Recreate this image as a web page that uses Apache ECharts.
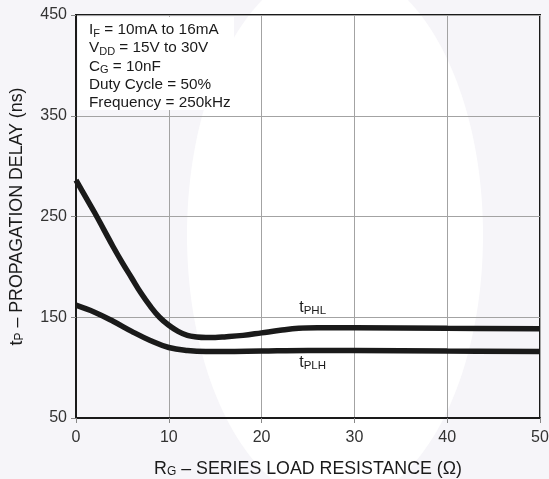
<!DOCTYPE html>
<html>
<head>
<meta charset="utf-8">
<script src="https://cdn.jsdelivr.net/npm/echarts@6/dist/echarts.min.js"></script>
<style>
html,body{margin:0;padding:0;background:#f6f5f9;}
#c{width:549px;height:479px;}
</style>
</head>
<body>
<div id="c"></div>
<script>
// Data
const rgPHL = [0, 1, 2, 3, 4, 5, 6, 7, 8, 9, 10, 11, 12, 13, 14, 15, 16, 18, 20, 22, 24, 26, 30, 40, 50];
const tPHL  = [286, 270, 254, 237, 220, 204, 189, 174, 161, 150, 142, 136, 132, 130.5, 130, 130, 130.5, 132, 134.5, 137, 139, 139.5, 139.5, 139, 138.5];
const rgPLH = [0, 2, 4, 6, 8, 10, 12, 14, 16, 20, 25, 30, 40, 50];
const tPLH  = [162, 155, 146, 136, 127, 120, 117, 116, 116, 116.5, 117, 117, 116.5, 116];
const xTicks = [0, 10, 20, 30, 40, 50];
const yTicks = [50, 150, 250, 350, 450];
const conditions = [
  ['I', 'F', ' = 10mA to 16mA'],
  ['V', 'DD', ' = 15V to 30V'],
  ['C', 'G', ' = 10nF'],
  ['Duty Cycle = 50%', '', ''],
  ['Frequency = 250kHz', '', '']
];

const font = 'Liberation Sans, Arial, sans-serif';
const chart = echarts.init(document.getElementById('c'));

const condText = conditions.map(r => r[1] ? '{m|' + r[0] + '}{s|' + r[1] + '}{m|' + r[2] + '}' : '{m|' + r[0] + '}').join('\n');

chart.setOption({
  backgroundColor: '#f6f5f9',
  animation: false,
  graphic: [
    { type: 'ellipse', z: -1, shape: { cx: 335, cy: 235, rx: 148, ry: 270 }, style: { fill: '#ffffff' }, silent: true },
    { type: 'rect', z: 10, shape: { x: 78, y: 17, width: 156, height: 93 }, style: { fill: '#ffffff' } },
    { type: 'text', z: 11, left: 89, top: 20, style: {
        text: condText, fontFamily: font, fill: '#1a1a1a',
        rich: {
          m: { fontSize: 15.3, fontFamily: font, fill: '#1a1a1a', lineHeight: 18.2 },
          s: { fontSize: 11, fontFamily: font, fill: '#1a1a1a', verticalAlign: 'bottom', lineHeight: 18.2, padding: [8, 0, 0, 0] }
        }
      } }
  ],
  grid: { left: 76, right: 9, top: 15, bottom: 61, outerBoundsMode: 'none', containLabel: false, show: true, borderColor: '#1a1a1a', borderWidth: 2, backgroundColor: 'transparent' },
  xAxis: {
    type: 'value', min: xTicks[0], max: xTicks[xTicks.length - 1], interval: 10,
    name: '{m|R}{s|G}{m| – SERIES LOAD RESISTANCE (Ω)}',
    nameLocation: 'middle', nameGap: 42,
    nameTextStyle: { rich: {
      m: { fontSize: 17.8, fontFamily: font, color: '#1a1a1a' },
      s: { fontSize: 12, fontFamily: font, color: '#1a1a1a', padding: [6, 0, 0, 0] }
    } },
    axisLine: { lineStyle: { color: '#1a1a1a', width: 2 } },
    axisTick: { show: true, length: 5, lineStyle: { color: '#888' } },
    axisLabel: { fontSize: 16, fontFamily: font, color: '#333', margin: 12 },
    splitLine: { show: true, lineStyle: { color: '#a3a3a3', width: 1 } }
  },
  yAxis: {
    type: 'value', min: yTicks[0], max: yTicks[yTicks.length - 1], interval: 100,
    name: '{m|t}{s|P}{m| – PROPAGATION DELAY (ns)}',
    nameLocation: 'middle', nameGap: 50, nameRotate: 90,
    nameTextStyle: { rich: {
      m: { fontSize: 17.8, fontFamily: font, color: '#1a1a1a' },
      s: { fontSize: 12, fontFamily: font, color: '#1a1a1a', padding: [6, 0, 0, 0] }
    } },
    axisLine: { show: true, lineStyle: { color: '#1a1a1a', width: 2 } },
    axisTick: { show: true, length: 5, lineStyle: { color: '#888' } },
    axisLabel: { fontSize: 16, fontFamily: font, color: '#333', margin: 9 },
    splitLine: { show: true, lineStyle: { color: '#a3a3a3', width: 1 } }
  },
  series: [
    {
      name: 'tPHL', type: 'line', smooth: 0.4, showSymbol: false,
      data: rgPHL.map((x, i) => [x, tPHL[i]]),
      lineStyle: { color: '#1a1a1a', width: 5.5 },
      markPoint: { symbol: 'circle', symbolSize: 0, data: [{ coord: [25.5, 160] }],
        label: { show: true, position: 'inside', formatter: '{m|t}{s|PHL}',
          rich: { m: { fontSize: 16, fontFamily: font, color: '#1a1a1a' }, s: { fontSize: 11.5, fontFamily: font, color: '#1a1a1a', padding: [7, 0, 0, 0] } } } }
    },
    {
      name: 'tPLH', type: 'line', smooth: 0.4, showSymbol: false,
      data: rgPLH.map((x, i) => [x, tPLH[i]]),
      lineStyle: { color: '#1a1a1a', width: 5.5 },
      markPoint: { symbol: 'circle', symbolSize: 0, data: [{ coord: [25.5, 105] }],
        label: { show: true, position: 'inside', formatter: '{m|t}{s|PLH}',
          rich: { m: { fontSize: 16, fontFamily: font, color: '#1a1a1a' }, s: { fontSize: 11.5, fontFamily: font, color: '#1a1a1a', padding: [7, 0, 0, 0] } } } }
    }
  ]
});
</script>
</body>
</html>
